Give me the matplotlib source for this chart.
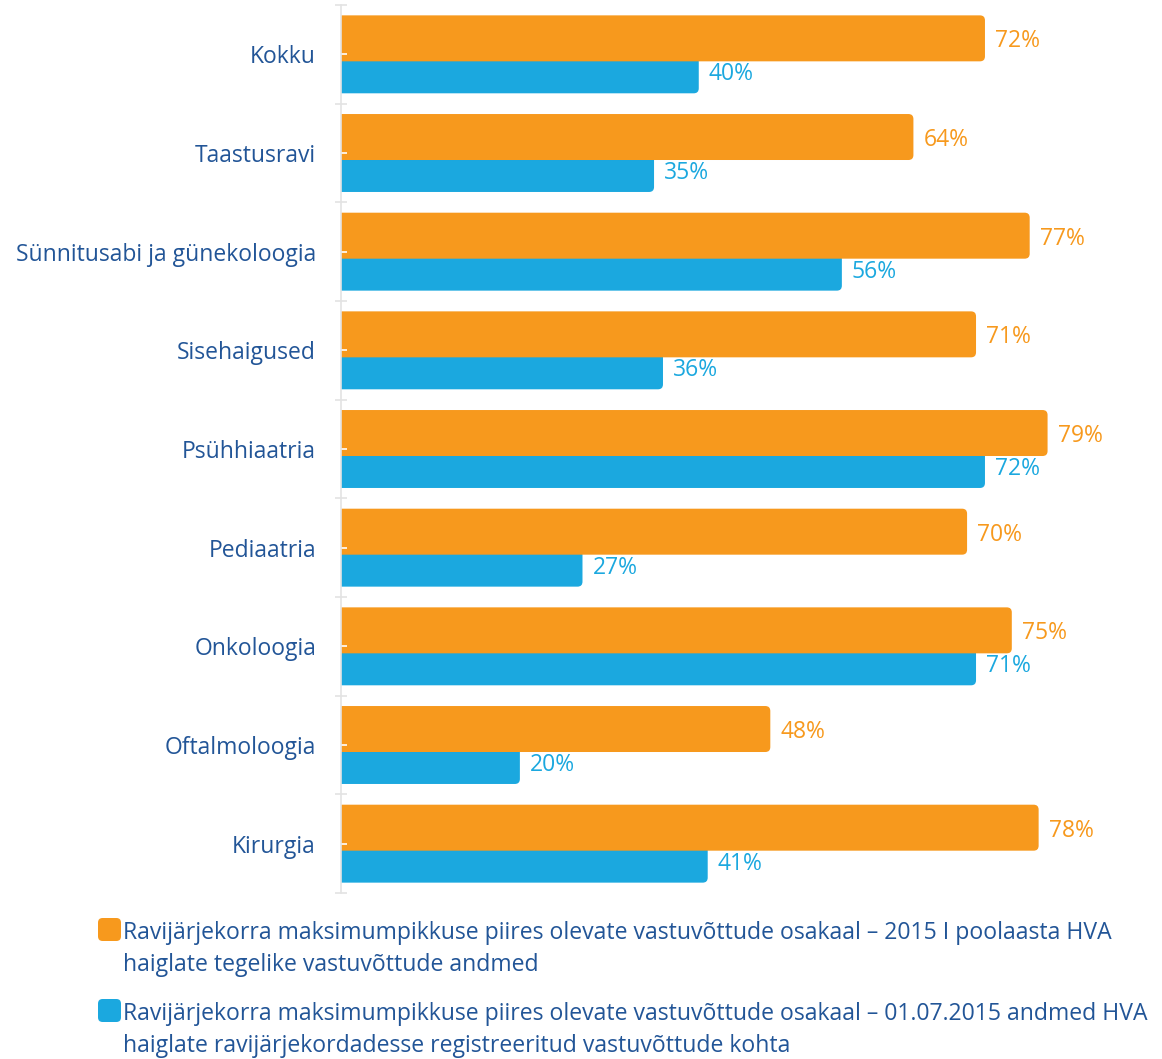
import matplotlib
matplotlib.use("Agg")
import matplotlib.pyplot as plt
from matplotlib.patches import FancyBboxPatch
import numpy as np

categories = ["Kokku", "Taastusravi", "Sünnitusabi ja günekoloogia", "Sisehaigused",
              "Psühhiaatria", "Pediaatria", "Onkoloogia", "Oftalmoloogia", "Kirurgia"]
actual_2015 = [72, 64, 77, 71, 79, 70, 75, 48, 78]
registered_0107 = [40, 35, 56, 36, 72, 27, 71, 20, 41]
legend_labels = [
    "Ravijärjekorra maksimumpikkuse piires olevate vastuvõttude osakaal – 2015 I poolaasta HVA\nhaiglate tegelike vastuvõttude andmed",
    "Ravijärjekorra maksimumpikkuse piires olevate vastuvõttude osakaal – 01.07.2015 andmed HVA\nhaiglate ravijärjekordadesse registreeritud vastuvõttude kohta",
]

ORANGE = "#F7991D"
BLUE = "#1BA8DF"
TEXT = "#225597"
GRID = "#E3E3E3"

plt.rcParams["font.family"] = ["Open Sans", "DejaVu Sans"]

W, H = 1162, 1059
fig = plt.figure(figsize=(W / 100, H / 100), dpi=100)
ax = fig.add_axes([341 / W, (H - 893) / H, (W - 341) / W, 888 / H])

n = len(categories)
y = np.arange(n)
bh = 0.466
off = 0.162
xmax = (W - 341) / 8.944
ax.set_xlim(0, xmax)
ax.set_ylim(n - 0.5, -0.5)

px_x = xmax / (W - 341)
px_y = n / 888.0
rad = 5 * px_x
aspect = px_y / px_x


def rounded_bars(vals, centers, color, z):
    bars = ax.barh(centers, vals, height=bh, color=color, zorder=z)
    for b in bars:
        x0, y0 = b.get_x(), b.get_y()
        w, h = b.get_width(), b.get_height()
        b.set_visible(False)
        p = FancyBboxPatch((x0 - 2 * rad, y0), w + 2 * rad, h,
                           boxstyle=f"round,pad=0,rounding_size={rad}",
                           mutation_aspect=aspect, facecolor=color,
                           edgecolor="none", zorder=z, clip_on=True)
        ax.add_patch(p)
    return bars


rounded_bars(registered_0107, y + off, BLUE, 1.0)
rounded_bars(actual_2015, y - off, ORANGE, 1.1)

FS = 16.5
for i in range(n):
    ax.text(actual_2015[i] + 10 * px_x, y[i] - off + 3 * px_y, f"{actual_2015[i]}%",
            color=ORANGE, fontsize=FS, va="center", ha="left")
    ax.text(registered_0107[i] + 10 * px_x, y[i] + off + 4 * px_y, f"{registered_0107[i]}%",
            color=BLUE, fontsize=FS, va="center", ha="left")

for s in ["top", "right", "bottom"]:
    ax.spines[s].set_visible(False)
ax.spines["left"].set_color(GRID)
ax.spines["left"].set_linewidth(1.2)
ax.set_xticks([])
ax.set_yticks(y)
ax.set_yticklabels(categories, fontsize=FS, color=TEXT)
ax.tick_params(axis="y", which="major", direction="inout", length=9, width=1.2,
               color="white", pad=13.5)
ax.set_yticks(np.arange(-0.5, n + 0.5, 1), minor=True)
ax.tick_params(axis="y", which="minor", direction="inout", length=9, width=1.2,
               color=GRID)

# legend (manual)
entries = [(ORANGE, legend_labels[0], 918), (BLUE, legend_labels[1], 999)]
for col, lab, top in entries:
    sq = FancyBboxPatch((98 / W, 1 - (top + 23) / H), 23 / W, 23 / H,
                        boxstyle="round,pad=0,rounding_size=0.004",
                        transform=fig.transFigure, facecolor=col, edgecolor="none",
                        mutation_aspect=W / H)
    fig.patches.append(sq)
    fig.text(123 / W, 1 - (top + 3) / H, lab, color=TEXT, fontsize=16.6,
             va="top", ha="left", linespacing=1.42)

fig.savefig("out.png", dpi=100)
